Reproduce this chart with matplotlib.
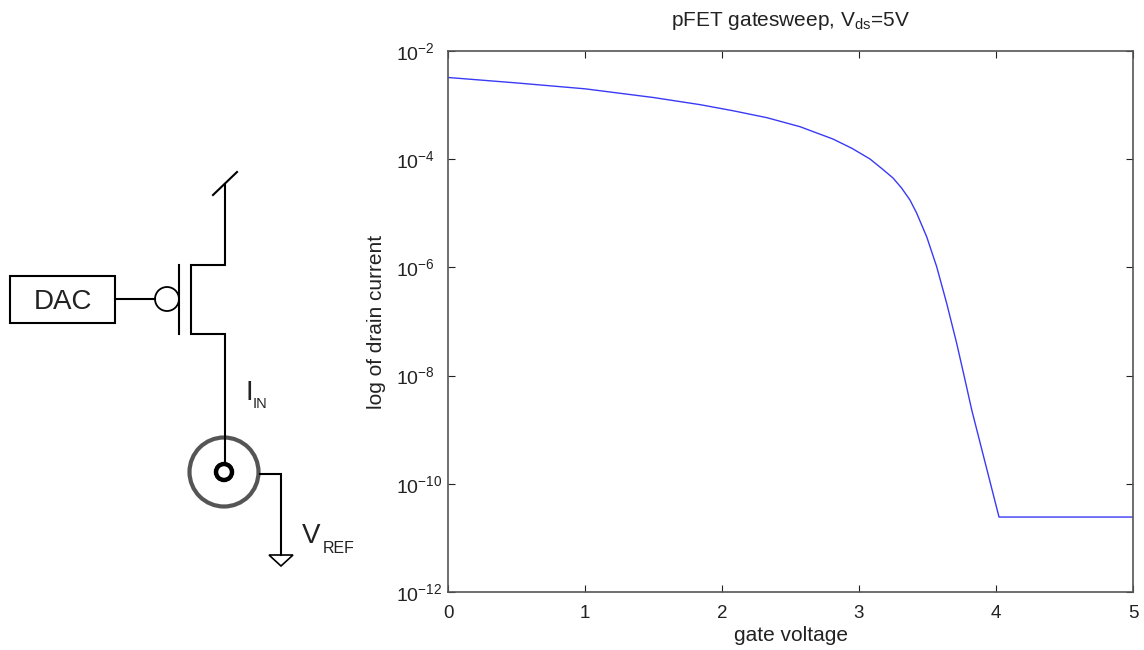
"""pFET gate sweep next to its measurement schematic."""

import matplotlib

matplotlib.use("Agg")
import matplotlib.pyplot as plt
from matplotlib.patches import Circle, Polygon, Rectangle

plt.rcParams["font.family"] = ["Liberation Sans", "DejaVu Sans"]
plt.rcParams["mathtext.fontset"] = "custom"
plt.rcParams["mathtext.rm"] = "Liberation Sans"
plt.rcParams["mathtext.it"] = "Liberation Sans"
plt.rcParams["mathtext.default"] = "rm"

WIDTH, HEIGHT = 1144, 650
SPINE = "#555555"
INK = "#222222"

gate_voltage = [
    0.0, 0.5, 1.0, 1.5, 1.839, 2.08, 2.328, 2.569, 2.81, 2.95, 3.08, 3.17, 3.248,
    3.31, 3.372, 3.42, 3.494, 3.567, 3.64, 3.713, 3.774, 3.823, 4.022, 5.0,
]
drain_current = [
    3.24e-3, 2.57e-3, 2.0e-3, 1.38e-3, 1.02e-3, 7.87e-4, 5.85e-4, 3.99e-4, 2.36e-4,
    1.58e-4, 1.01e-4, 6.6e-5, 4.5e-5, 2.95e-5, 1.76e-5, 1.02e-5, 3.69e-6, 1.03e-6,
    2.17e-7, 3.95e-8, 8.3e-9, 2.31e-9, 2.43e-11, 2.43e-11,
]
x_ticks = [0, 1, 2, 3, 4, 5]
y_ticks = [1e-12, 1e-10, 1e-8, 1e-6, 1e-4, 1e-2]
y_tick_labels = ["$10^{-12}$", "$10^{-10}$", "$10^{-8}$", "$10^{-6}$", "$10^{-4}$", "$10^{-2}$"]

fig = plt.figure(figsize=(WIDTH / 100, HEIGHT / 100), dpi=100)

# plot box in figure fractions, from pixel positions
left, right, top, bottom = 448, 1133, 51, 592
ax = fig.add_axes([left / WIDTH, 1 - bottom / HEIGHT, (right - left) / WIDTH, (bottom - top) / HEIGHT])
ax.semilogy(gate_voltage, drain_current, color="#3a3af5", lw=1.0)
ax.set_xlim(0, 5)
ax.set_ylim(1e-12, 1e-2)
ax.set_xticks(x_ticks)
ax.set_yticks(y_ticks, y_tick_labels, ha="left")
ax.minorticks_off()
ax.tick_params(direction="in", top=True, right=True, length=5, width=0.8, color=INK,
               labelcolor=INK, labelsize=14)
ax.tick_params(axis="x", pad=9.5, labelsize=13.5)
ax.tick_params(axis="y", pad=37.5)
for spine in ax.spines.values():
    spine.set_color(SPINE)
    spine.set_linewidth(1.2)
ax.set_xlabel("gate voltage", fontsize=15, color=INK, va="center")
ax.xaxis.set_label_coords(0.5, -0.081)
ax.set_ylabel("log of drain current", fontsize=15, color=INK, va="center")
ax.yaxis.set_label_coords(-0.105, 0.5)
ax.set_title("pFET gatesweep, $V_{ds}$=5V", fontsize=15, color=INK, pad=18)

# schematic layer, in pixels of the picture
sch = fig.add_axes([0, 0, 1, 1], facecolor="none")
sch.set_xlim(0, WIDTH)
sch.set_ylim(HEIGHT, 0)
sch.axis("off")

wires = [
    ([115, 155], [299, 299]),
    ([179, 179], [265, 334]),
    ([225, 225, 190.5, 190.5, 225, 225], [184, 265, 265, 334, 334, 463]),
    ([213, 237], [195, 172]),
    ([260, 281, 281], [474, 474, 555]),
]
for xs, ys in wires:
    sch.plot(xs, ys, color="black", lw=1.5, solid_joinstyle="miter")

sch.add_patch(Rectangle((9.5, 276), 105.5, 47, fill=False, ec="black", lw=1.5))
sch.add_patch(Circle((167, 299), 12, fill=False, ec="black", lw=1.3))
sch.add_patch(Circle((224, 472), 34.5, fill=False, ec="#555555", lw=3))
sch.add_patch(Circle((224, 472), 8, fill=False, ec="black", lw=3.2))
sch.add_patch(Polygon([(269, 555), (293, 555), (281, 566)], fill=False, ec="black", lw=1.2))

sch.text(62.5, 302, "DAC", fontsize=20, color=INK, ha="center", va="center")
sch.text(246, 400, "I", fontsize=20, color=INK, ha="left", va="baseline")
sch.text(253, 408, "IN", fontsize=10.5, color=INK, ha="left", va="baseline")
sch.text(302, 543, "V", fontsize=20, color=INK, ha="left", va="baseline")
sch.text(322.5, 553, "REF", fontsize=11.5, color=INK, ha="left", va="baseline")

fig.savefig("out.png", dpi=100)
plt.close(fig)
